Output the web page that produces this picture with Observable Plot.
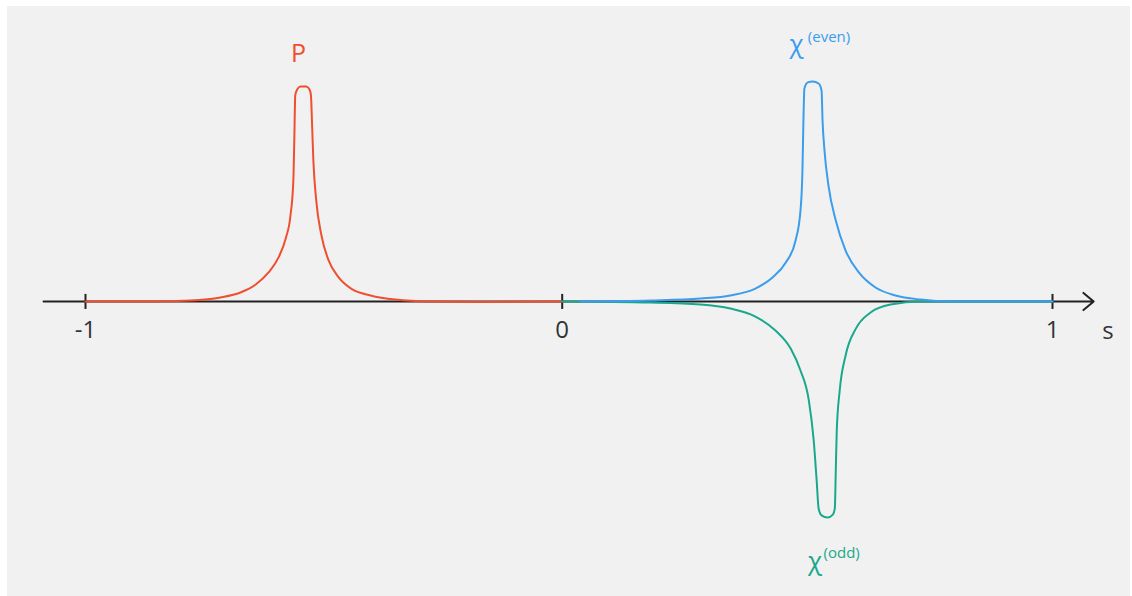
<!DOCTYPE html>
<html>
<head>
<meta charset="utf-8">
<script src="https://cdn.jsdelivr.net/npm/d3@7"></script>
<script src="https://cdn.jsdelivr.net/npm/@observablehq/plot@0.6"></script>
<style>
  html, body { margin: 0; padding: 0; background: #ffffff; }
  #chart { position: absolute; left: 7px; top: 6px; width: 1123px; height: 590px; background: #f1f1f1; }
  #chart svg { display: block; background: #f1f1f1; font-family: "Open Sans", sans-serif; }
</style>
</head>
<body>
<div id="chart"></div>
<script>
// Spectral curves along the s axis: P on [-1, 0], the even and odd χ parts on [0, 1].
const pS = [-1, -0.864, -0.780, -0.717, -0.675, -0.643, -0.616, -0.595, -0.580, -0.570, -0.564, -0.562, -0.560, -0.556, -0.549, -0.537, -0.530, -0.527, -0.525, -0.522, -0.516, -0.505, -0.490, -0.469, -0.440, -0.402, -0.350, -0.276, -0.171, 0];
const pV = [0, 0, 0.005, 0.019, 0.042, 0.079, 0.135, 0.205, 0.293, 0.400, 0.563, 0.749, 0.958, 0.986, 1.0, 1.0, 0.986, 0.958, 0.842, 0.656, 0.470, 0.307, 0.191, 0.112, 0.056, 0.028, 0.009, 0, -0.002, 0];

const evenS = [0.037, 0.180, 0.282, 0.343, 0.394, 0.429, 0.456, 0.476, 0.486, 0.490, 0.492, 0.494, 0.501, 0.511, 0.523, 0.529, 0.531, 0.535, 0.543, 0.558, 0.578, 0.605, 0.639, 0.680, 0.731, 0.792, 0.894, 1.0];
const evenV = [0, 0.005, 0.014, 0.028, 0.060, 0.112, 0.181, 0.284, 0.423, 0.609, 0.842, 0.991, 1.019, 1.023, 1.014, 0.981, 0.842, 0.702, 0.540, 0.377, 0.237, 0.135, 0.065, 0.028, 0.009, 0, 0, 0];

const oddS = [0, 0.180, 0.282, 0.343, 0.394, 0.435, 0.466, 0.486, 0.503, 0.513, 0.519, 0.523, 0.529, 0.541, 0.552, 0.556, 0.558, 0.560, 0.566, 0.578, 0.599, 0.629, 0.670, 0.731, 0.792, 1.0];
const oddV = [0, -0.005, -0.014, -0.033, -0.070, -0.135, -0.219, -0.321, -0.460, -0.647, -0.833, -0.963, -0.995, -1.005, -0.991, -0.963, -0.786, -0.600, -0.414, -0.251, -0.126, -0.051, -0.014, 0, 0, 0];

const tickValues = [-1, 0, 1];
const tickLabels = ["-1", "0", "1"];

const red = "#f04f2f", blue = "#3b9ded", teal = "#1aa88c", ink = "#222222";

const toRows = (xs, ys) => xs.map((s, i) => ({s, v: ys[i]}));
const pRows = toRows(pS, pV);
const evenRows = toRows(evenS, evenV);
const oddRows = toRows(oddS, oddV);
const ticks = tickValues.map((s, i) => ({s, label: tickLabels[i]}));

const chart = Plot.plot({
  width: 1123,
  height: 590,
  margin: 0,
  x: {type: "linear", domain: [-1, 0, 1], range: [78, 554.7, 1045], axis: null},
  y: {type: "linear", domain: [-1, 1], range: [510, 80], axis: null},
  marks: [
    // s axis with arrowhead
    Plot.arrow([{x1: -1.088, x2: 1.084}], {x1: "x1", x2: "x2", y1: 0, y2: 0, stroke: ink, strokeWidth: 2, headLength: 10, headAngle: 80}),
    Plot.ruleX(ticks, {x: "s", y1: -0.037, y2: 0.033, stroke: ink, strokeWidth: 2}),
    Plot.text(ticks, {x: "s", y: 0, text: "label", dy: 36, lineAnchor: "bottom", fontSize: 24, fill: "#333"}),
    Plot.text(["s"], {x: 1.113, y: 0, text: d => d, dy: 37, lineAnchor: "bottom", fontSize: 24, fill: "#333"}),
    // curves
    Plot.line(pRows, {x: "s", y: "v", stroke: red, strokeWidth: 2, curve: "monotone-x"}),
    Plot.line(oddRows, {x: "s", y: "v", stroke: teal, strokeWidth: 2, curve: "monotone-x"}),
    Plot.line(evenRows, {x: "s", y: "v", stroke: blue, strokeWidth: 2, curve: "monotone-x"}),
    // curve labels
    Plot.text(["P"], {x: -0.553, y: 1.112, text: d => d, lineAnchor: "bottom", fontSize: 25, fill: red}),
    Plot.text(["χ"], {x: 0.478, y: 1.158, text: d => d, lineAnchor: "bottom", fontSize: 26, fill: blue}),
    Plot.text(["(even)"], {x: 0.501, y: 1.209, text: d => d, lineAnchor: "bottom", textAnchor: "start", fontSize: 15, fill: blue}),
    Plot.text(["χ"], {x: 0.516, y: -1.247, text: d => d, lineAnchor: "bottom", fontSize: 26, fill: teal}),
    Plot.text(["(odd)"], {x: 0.533, y: -1.195, text: d => d, lineAnchor: "bottom", textAnchor: "start", fontSize: 15, fill: teal})
  ]
});
document.getElementById("chart").append(chart);
</script>
</body>
</html>
